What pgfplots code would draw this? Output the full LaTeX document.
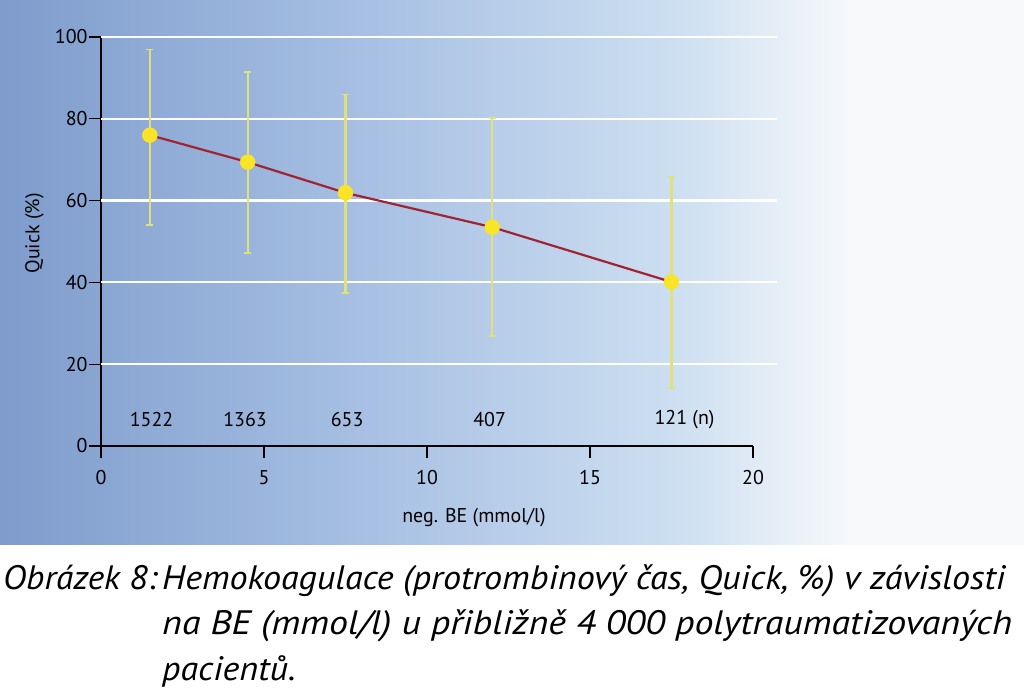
\documentclass[border=0pt]{standalone}
\usepackage{fontspec}
\setmainfont{PT Sans}
\usepackage{graphicx}
\usepackage{pgfplots}
\pgfplotsset{compat=1.18}
\definecolor{bgA}{RGB}{126,156,204}
\definecolor{bgB}{RGB}{165,190,226}
\definecolor{bgC}{RGB}{205,223,241}
\definecolor{bgD}{RGB}{247,249,251}
\definecolor{ptY}{RGB}{250,228,40}
\definecolor{errY}{RGB}{222,226,120}
\definecolor{lineR}{RGB}{160,35,50}
\pgfplotstableread{
x y ep em
1.5 76.0 21.0 22.0
4.5 69.4 22.0 22.2
7.5 61.9 24.0 24.5
12.0 53.5 26.7 26.6
17.5 40.1 25.7 25.9
}\datatab
\newcommand{\capfont}{\fontsize{34}{40}\selectfont\itshape}
\newsavebox\capA
\newsavebox\capB
\newsavebox\capO
\newsavebox\capC
\begin{document}%
\sbox\capO{\capfont Obrázek 8:}%
\sbox\capA{\capfont Hemokoagulace (protrombinový čas, Quick, \%) v závislosti}%
\sbox\capB{\capfont na BE (mmol/l) u přibližně 4 000 polytraumatizovaných}%
\sbox\capC{\capfont pacientů.}%
\pgfmathsetmacro\sxA{843/(\wd\capA/1bp)}%
\pgfmathsetmacro\sxB{850/(\wd\capB/1bp)}%
\pgfmathsetmacro\sxO{154/(\wd\capO/1bp)}%
\begin{tikzpicture}
\fill[white] (0bp,0bp) rectangle (1024bp,688bp);
\shade[left color=bgA,right color=bgB] (0bp,143bp) rectangle (350bp,688bp);
\shade[left color=bgB,right color=bgC] (349.5bp,143bp) rectangle (680bp,688bp);
\shade[left color=bgC,right color=bgD] (679.5bp,143bp) rectangle (850bp,688bp);
\fill[bgD] (849.5bp,143bp) rectangle (1024bp,688bp);
\begin{axis}[at={(101bp,242bp)}, anchor=south west, scale only axis,
  width=652bp, height=409bp,
  xmin=0, xmax=20, ymin=0, ymax=100,
  axis lines=left, axis line style={black, line width=1.4pt, -},
  xtick={0,5,...,20}, ytick={0,20,...,100},
  tick style={black, line width=1.1pt}, tick align=outside,
  major tick length=12bp,
  tick label style={font=\fontsize{20}{24}\selectfont},
  xticklabel style={yshift=-9bp},
  yticklabel style={xshift=2bp},
  /pgf/number format/assume math mode=true,
  clip=false,
  xlabel={neg. BE (mmol/l)}, ylabel={Quick (\%)},
  label style={font=\fontsize{20}{24}\selectfont},
  xlabel style={at={(axis description cs:0.572,-0.176)}, anchor=center},
  ylabel style={at={(axis description cs:-0.102,0.52)}, anchor=center}]
\pgfplotsinvokeforeach{20,40,60,80,100}{
  \draw[white, line width=2.2bp] (axis cs:0,#1) -- (axis cs:20.75,#1);
}
\addplot[errY, mark=none, draw=none,
  error bars/.cd, y dir=both, y explicit,
  error bar style={errY, line width=2.4bp},
  error mark options={errY, line width=1.4bp, mark size=3.5bp, rotate=90}]
  table[x=x, y=y, y error plus=ep, y error minus=em] {\datatab};
\addplot[lineR, line width=2.2bp, mark=none] table[x=x, y=y] {\datatab};
\addplot[only marks, mark=*, mark size=7.5bp, mark options={fill=ptY, draw=ptY}] table[x=x, y=y] {\datatab};
\node[font=\fontsize{20}{24}\selectfont] at (axis cs:1.55,6.4) {1522};
\node[font=\fontsize{20}{24}\selectfont] at (axis cs:4.42,6.4) {1363};
\node[font=\fontsize{20}{24}\selectfont] at (axis cs:7.55,6.4) {653};
\node[font=\fontsize{20}{24}\selectfont] at (axis cs:11.92,6.4) {407};
\node[font=\fontsize{20}{24}\selectfont] at (axis cs:17.9,6.4) {121 (n)};
\end{axis}
\node[anchor=base west, inner sep=0pt] at (3bp,98bp) {\scalebox{\sxO}[1]{\usebox\capO}};
\node[anchor=base west, inner sep=0pt] at (162bp,98bp) {\scalebox{\sxA}[1]{\usebox\capA}};
\node[anchor=base west, inner sep=0pt] at (162bp,53bp) {\scalebox{\sxB}[1]{\usebox\capB}};
\node[anchor=base west, inner sep=0pt] at (162bp,8bp) {\scalebox{\sxA}[1]{\usebox\capC}};
\end{tikzpicture}%
\end{document}
